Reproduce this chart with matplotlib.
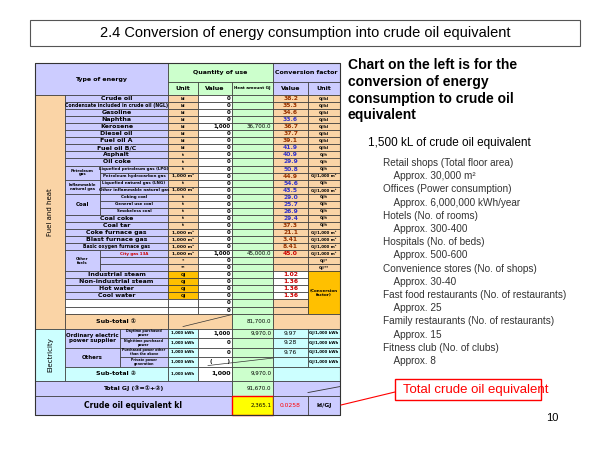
import matplotlib.pyplot as plt
from matplotlib.patches import Rectangle

# fuel and heat rows
names = ["Crude oil", "Condensate included in crude oil (NGL)", "Gasoline", "Naphtha", "Kerosene",
         "Diesel oil", "Fuel oil A", "Fuel oil B/C", "Asphalt", "Oil coke",
         "Liquefied petroleum gas (LPG)", "Petroleum hydrocarbon gas",
         "Liquefied natural gas (LNG)", "Other inflammable natural gas",
         "Coking coal", "General use coal", "Smokeless coal",
         "Coal coke", "Coal tar", "Coke furnace gas", "Blast furnace gas", "Basic oxygen furnace gas",
         "City gas 13A", "", "", "Industrial steam", "Non-industrial steam", "Hot water", "Cool water", "", ""]
units = ["kl"] * 8 + ["t", "t", "t", "1,000 m³", "t", "1,000 m³", "t", "t", "t", "t", "t",
         "1,000 m³", "1,000 m³", "1,000 m³", "1,000 m³", "*", "**", "GJ", "GJ", "GJ", "GJ", "", ""]
values = ["0"] * 4 + ["1,000"] + ["0"] * 17 + ["1,000", "0", "0", "0", "0", "0", "0", "0", "0"]
heat = [""] * 4 + ["36,700.0"] + [""] * 17 + ["45,000.0"] + [""] * 8
conv = ["38.2", "35.3", "34.6", "33.6", "36.7", "37.7", "39.1", "41.9", "40.9", "29.9",
        "50.8", "44.9", "54.6", "43.5", "29.0", "25.7", "26.9", "29.4", "37.3", "21.1",
        "3.41", "8.41", "45.0", "", "", "1.02", "1.36", "1.36", "1.36", "", ""]
conv_units = ["GJ/kl"] * 8 + ["GJ/t", "GJ/t", "GJ/t", "GJ/1,000 m³", "GJ/t", "GJ/1,000 m³",
              "GJ/t", "GJ/t", "GJ/t", "GJ/t", "GJ/t", "GJ/1,000 m³", "GJ/1,000 m³", "GJ/1,000 m³",
              "GJ/1,000 m³", "GJ/*", "GJ/**"]
blue_rows = [3, 7, 8, 9, 10, 12, 13, 14, 15, 16, 17]
groups = [("Petroleum\ngas", 10, 11), ("Inflammable\nnatural gas", 12, 13), ("Coal", 14, 16), ("Other\nfuels", 22, 24)]

elec_groups = [("Ordinary electric\npower supplier", 0, 1), ("Others", 2, 3)]
elec_names = ["Daytime purchased\npower", "Nighttime purchased\npower",
              "Purchased power other\nthan the above", "Private power\ngeneration"]
elec_values = ["1,000", "0", "0", "(        )"]
elec_heat = ["9,970.0", "", "", ""]
elec_conv = ["9.97", "9.28", "9.76", ""]

subtotal1 = "81,700.0"
subtotal2_value = "1,000"
subtotal2 = "9,970.0"
total = "91,670.0"
crude_eq = "2,365.1"
crude_factor = "0.0258"

notes = ["Retail shops (Total floor area)", "    Approx. 30,000 m²",
         "Offices (Power consumption)", "    Approx. 6,000,000 kWh/year",
         "Hotels (No. of rooms)", "    Approx. 300-400",
         "Hospitals (No. of beds)", "    Approx. 500-600",
         "Convenience stores (No. of shops)", "    Approx. 30-40",
         "Fast food restaurants (No. of restaurants)", "    Approx. 25",
         "Family restaurants (No. of restaurants)", "    Approx. 15",
         "Fitness club (No. of clubs)", "    Approx. 8"]

ORANGE = "#fad4a6"
LAV = "#ccccff"
GREEN = "#ccffcc"
CYAN = "#ccffff"
GOLD = "#ffc000"

fig = plt.figure(figsize=(6, 4.5), dpi=100)
ax = fig.add_axes([0, 0, 1, 1])
ax.set_xlim(0, 600)
ax.set_ylim(450, 0)
ax.axis("off")


def cell(x0, y0, x1, y1, fc, text="", size=4, color="black", weight="bold", ha="center", lw=0.5, ec="#333333", rot=0):
    ax.add_patch(Rectangle((x0, y0), x1 - x0, y1 - y0, fc=fc, ec=ec, lw=lw))
    if text:
        if ha == "center":
            tx = (x0 + x1) / 2
        else:
            tx = x1 - 1.5
        ax.text(tx, (y0 + y1) / 2, text, ha=ha, va="center", fontsize=size, color=color,
                fontweight=weight, rotation=rot, linespacing=0.95)


# title
ax.add_patch(Rectangle((30, 20), 550, 26, fc="white", ec="#555555", lw=0.8))
ax.text(305, 33, "2.4 Conversion of energy consumption into crude oil equivalent",
        ha="center", va="center", fontsize=10.5, fontfamily="Liberation Sans")

# columns
X = [35, 65, 100, 168, 198, 232, 273, 308, 340]
top, hmid, hbot = 63, 82, 95
cell(X[0], top, X[3], hbot, LAV, "Type of energy", 4.5)
cell(X[3], top, X[6], hmid, GREEN, "Quantity of use", 4.5)
cell(X[6], top, X[8], hmid, LAV, "Conversion factor", 4.5)
cell(X[3], hmid, X[4], hbot, GREEN, "Unit", 4.5)
cell(X[4], hmid, X[5], hbot, GREEN, "Value", 4.5)
cell(X[5], hmid, X[6], hbot, GREEN, "Heat amount GJ", 3)
cell(X[6], hmid, X[7], hbot, LAV, "Value", 4.5)
cell(X[7], hmid, X[8], hbot, LAV, "Unit", 4.5)

rh = 7.05
n = len(names)
fuel_bot = hbot + n * rh
cell(X[0], hbot, X[1], fuel_bot + 15, ORANGE, "Fuel and heat", 5, weight="normal", rot=90)
grouped = set()
for g, a, b in groups:
    cell(X[1], hbot + a * rh, X[2], hbot + (b + 1) * rh, LAV, g, 4 if g == "Coal" else 2.8)
    grouped.update(range(a, b + 1))
for i in range(n):
    y0, y1 = hbot + i * rh, hbot + (i + 1) * rh
    x_name = X[2] if i in grouped else X[1]
    col = "#cc0000" if names[i] == "City gas 13A" else "black"
    fs = 3.3 if len(names[i]) > 20 else 4.5
    if i in grouped:
        fs = 2.9
    cell(x_name, y0, X[3], y1, "white" if names[i] == "" and i >= 29 else LAV, names[i], fs, color=col)
    ufc = GOLD if units[i] == "GJ" else ORANGE
    if i >= 29:
        ufc = "white"
    cell(X[3], y0, X[4], y1, ufc, units[i], 3.2)
    cell(X[4], y0, X[5], y1, "white", values[i], 4, ha="right")
    cell(X[5], y0, X[6], y1, GREEN, heat[i], 4, weight="normal", ha="right")
    ccol = "#3333cc" if i in blue_rows else ("#cc0000" if i >= 22 else "#993300")
    cell(X[6], y0, X[7], y1, ORANGE if i < 25 or i >= 29 else "white", conv[i], 4.3, color=ccol)
    if i < len(conv_units):
        cell(X[7], y0, X[8], y1, ORANGE, conv_units[i], 2.8)
cell(X[7], hbot + 25 * rh, X[8], fuel_bot, GOLD, "(Conversion\nfactor)", 3)

# sub-total 1
s1b = fuel_bot + 15
cell(X[1], fuel_bot, X[3], s1b, ORANGE, "Sub-total ①", 4.5)
cell(X[3], fuel_bot, X[5], s1b, ORANGE)
ax.plot([X[3] + 15, X[5]], [s1b - 2, fuel_bot + 1], color="#333333", lw=0.5)
cell(X[5], fuel_bot, X[6], s1b, GREEN, subtotal1, 4, weight="normal", ha="right")
cell(X[6], fuel_bot, X[8], s1b, ORANGE)

# electricity
erh = 9.5
e_bot = s1b + 4 * erh
cell(X[0], s1b, X[1], e_bot + 14, CYAN, "Electricity", 5, weight="normal", rot=90)
for g, a, b in elec_groups:
    cell(X[1], s1b + a * erh, 120, s1b + (b + 1) * erh, LAV, g, 4)
for i in range(4):
    y0, y1 = s1b + i * erh, s1b + (i + 1) * erh
    cell(120, y0, X[3], y1, LAV, elec_names[i], 2.3)
    cell(X[3], y0, X[4], y1, CYAN, "1,000 kWh", 2.8)
    cell(X[4], y0, X[5], y1, "white", elec_values[i], 4, ha="right")
    cell(X[5], y0, X[6], y1, GREEN, elec_heat[i], 4, weight="normal", ha="right")
    cell(X[6], y0, X[7], y1, CYAN, elec_conv[i], 4.3, weight="normal")
    cell(X[7], y0, X[8], y1, CYAN, "GJ/1,000 kWh", 2.8)
ax.plot([X[4] + 10, X[6]], [e_bot - 1, e_bot - erh + 1], color="#333333", lw=0.5)
s2b = e_bot + 14
cell(X[1], e_bot, X[3], s2b, CYAN, "Sub-total ②", 4.5)
cell(X[3], e_bot, X[4], s2b, CYAN, "1,000 kWh", 2.8)
cell(X[4], e_bot, X[5], s2b, "white", subtotal2_value, 4.5, ha="right")
cell(X[5], e_bot, X[6], s2b, GREEN, subtotal2, 4, weight="normal", ha="right")
cell(X[6], e_bot, X[8], s2b, CYAN)

# totals
tb = s2b + 15
cell(X[0], s2b, X[5], tb, LAV, "Total GJ (③=①+②)", 4.5)
cell(X[5], s2b, X[6], tb, GREEN, total, 4, weight="normal", ha="right")
cell(X[6], s2b, X[8], tb, LAV)
ax.plot([X[7], X[8]], [tb - 3, s2b + 6], color="#333333", lw=0.6)
cb = 415
cell(X[0], tb, X[5], cb, LAV, "Crude oil equivalent kl", 5.5)
cell(X[5], tb, X[6], cb, "#ffff00", crude_eq, 4, weight="normal", ha="right", ec="red", lw=1)
cell(X[6], tb, X[7], cb, LAV, crude_factor, 4.3, color="red", weight="normal")
cell(X[7], tb, X[8], cb, LAV, "kl/GJ", 4.3)
ax.add_patch(Rectangle((X[0], top), X[8] - X[0], cb - top, fc="none", ec="#333333", lw=0.8))

# right text
ax.text(348, 58, "Chart on the left is for the\nconversion of energy\nconsumption to crude oil\nequivalent",
        ha="left", va="top", fontsize=10, fontweight="bold", linespacing=1.25, fontfamily="Liberation Sans")
ax.text(368, 143, "1,500 kL of crude oil equivalent", ha="left", va="center", fontsize=8.5,
        fontfamily="Liberation Sans")
for k, line in enumerate(notes):
    ax.text(383, 163 + k * 13.2, line, ha="left", va="center", fontsize=7.2,
            color="#333333", fontfamily="Liberation Sans")

ax.add_patch(Rectangle((395, 379), 146, 21, fc="white", ec="red", lw=1))
ax.text(403, 389.5, "Total crude oil equivalent", ha="left", va="center", fontsize=9.5,
        color="red", fontfamily="Liberation Sans")
ax.plot([395, 341], [392, 405], color="red", lw=0.8)
ax.text(552, 418, "10", ha="center", va="center", fontsize=8, fontfamily="Liberation Sans")

fig.savefig("out.png", dpi=100)
